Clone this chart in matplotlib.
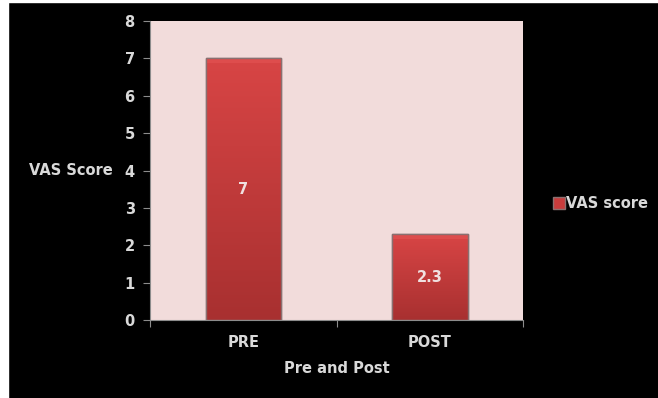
import numpy as np
import matplotlib
matplotlib.use("Agg")
import matplotlib.pyplot as plt
from matplotlib.colors import LinearSegmentedColormap

categories = ["PRE", "POST"]
vas_score = [7, 2.3]
value_labels = ["7", "2.3"]
yticks = [0, 1, 2, 3, 4, 5, 6, 7, 8]

plt.rcParams['font.family'] = ['DejaVu Sans']
plt.rcParams['font.weight'] = 'bold'
txt = '#d9d9d9'
axis_col = '#8c8c8c'
fs = 10.5

fig = plt.figure(figsize=(6.58, 3.98), dpi=100, facecolor='black')
# thin white strips at left and top of the original image
fig.patches.append(plt.Rectangle((0, 0), 8 / 658, 1, transform=fig.transFigure,
                                 color='white', zorder=0))
fig.patches.append(plt.Rectangle((0, 1 - 2 / 398), 1, 2 / 398, transform=fig.transFigure,
                                 color='white', zorder=0))

ax = fig.add_axes([0.228, 0.196, 0.567, 0.751])
ax.set_facecolor('#f2dcdb')

x = np.arange(len(categories))
bars = ax.bar(x, vas_score, width=0.405, color='#c83c3c', edgecolor='#8a7070',
              linewidth=1, label='VAS score', zorder=2)

# vertical red gradient clipped to each bar
cmap = LinearSegmentedColormap.from_list('red', ['#a83030', '#d84545'])
grad = np.linspace(0, 1, 256).reshape(-1, 1)
for b in bars:
    x0, y0 = b.get_x(), b.get_y()
    w, h = b.get_width(), b.get_height()
    im = ax.imshow(grad, extent=[x0, x0 + w, y0, y0 + h], origin='lower',
                   cmap=cmap, aspect='auto', zorder=2.5)
    im.set_clip_path(b)
    # light bevel on top
    ax.fill_between([x0, x0 + w], y0 + h - 0.12, y0 + h, color='#e05050',
                    alpha=0.8, lw=0, zorder=2.6)
    ax.bar(b.get_x() + w / 2, h, width=w, fill=False, edgecolor='#8a7070',
           linewidth=1, zorder=2.7)

for xi, v, lab in zip(x, vas_score, value_labels):
    ax.text(xi, v / 2, lab, ha='center', va='center', color='#f0e0e0',
            fontsize=fs, fontweight='bold', zorder=3)

ax.set_xlim(-0.5, 1.5)
ax.set_ylim(0, 8)
ax.set_yticks(yticks)
ax.set_xticks([-0.5, 0.5, 1.5])
ax.set_xticklabels([])
ax.set_xticks(x, minor=True)
ax.set_xticklabels(categories, minor=True)
ax.tick_params(axis='x', which='minor', length=0, pad=11)
ax.tick_params(axis='x', which='major', length=5, color=axis_col, direction='out')
ax.tick_params(axis='y', length=5, color=axis_col, pad=6)
for lab in ax.get_xticklabels(minor=True) + ax.get_yticklabels():
    lab.set_color(txt)
    lab.set_fontsize(fs)
    lab.set_fontweight('bold')

for s in ['top', 'right']:
    ax.spines[s].set_visible(False)
for s in ['left', 'bottom']:
    ax.spines[s].set_color(axis_col)

ax.set_xlabel('Pre and Post', color=txt, fontsize=fs, fontweight='bold', labelpad=8)
ax.set_ylabel('VAS Score', color=txt, fontsize=fs, fontweight='bold',
              rotation=0, ha='right', va='center')
ax.yaxis.set_label_coords(-0.1, 0.5)

leg = ax.legend(loc='center left', bbox_to_anchor=(1.045, 0.39), frameon=False,
                handlelength=0.8, handleheight=0.9, handletextpad=0.1, fontsize=fs)
for t in leg.get_texts():
    t.set_color(txt)
    t.set_fontweight('bold')

fig.savefig('out.png', dpi=100, facecolor='black')
